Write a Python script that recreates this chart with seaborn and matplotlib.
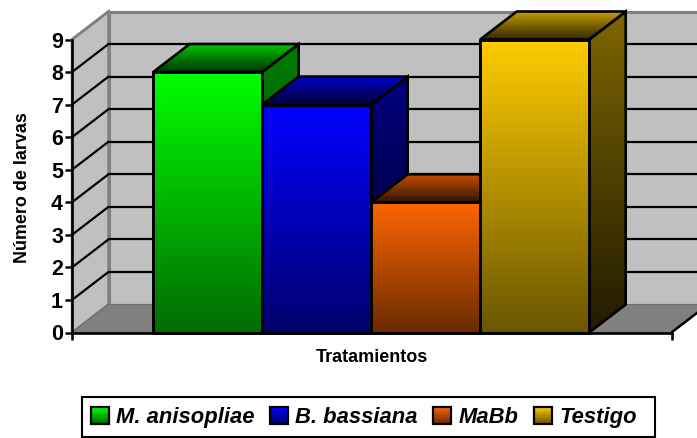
import numpy as np
import pandas as pd
import matplotlib
matplotlib.use('Agg')
import matplotlib.pyplot as plt
from matplotlib.colors import to_rgb
from matplotlib.legend_handler import HandlerBase
from matplotlib.patches import Patch, Polygon, Rectangle
import seaborn as sns

tratamientos = ['M. anisopliae', 'B. bassiana', 'MaBb', 'Testigo']
larvas = [8, 7, 4, 9]
colores = ['#00FF00', '#0000FF', '#FF6600', '#FFCC00']
y_ticks = [0, 1, 2, 3, 4, 5, 6, 7, 8, 9]

sns.set_theme(style='white')
plt.rcParams['font.family'] = ['Liberation Sans', 'DejaVu Sans']

W, H = 697, 438
fig = plt.figure(figsize=(W / 100, H / 100), dpi=100)
# ejes en pixeles de la figura
ax = fig.add_axes([72 / W, 1 - 332.5 / H, 599.5 / W, 293 / H])

df = pd.DataFrame({'grupo': ['t'] * 4, 'tratamiento': tratamientos, 'larvas': larvas})
sns.barplot(data=df, x='grupo', y='larvas', hue='tratamiento', palette=colores,
            width=0.8, gap=0, edgecolor='black', linewidth=1.9, legend=False, ax=ax)

x0, x1 = -0.549, 0.551
ax.set_xlim(x0, x1)
ax.set_ylim(0, 9)
dx = 36.5 * (x1 - x0) / 599.5   # profundidad
dy = 28 * 9 / 293


def gradiente(pts, color, arriba, abajo, ymin, ymax, z):
    # relleno vertical recortado al poligono
    col = np.array(to_rgb(color))
    f = np.linspace(arriba, abajo, 256)[:, None, None]
    img = f * col[None, None, :]
    xs = [p[0] for p in pts]
    im = ax.imshow(img, extent=(min(xs), max(xs), ymin, ymax), aspect='auto',
                   origin='upper', zorder=z, interpolation='bilinear')
    clip = Polygon(pts, closed=True, transform=ax.transData)
    im.set_clip_path(clip)
    im.set_clip_box(fig.bbox)
    ax.add_patch(Polygon(pts, closed=True, fill=False, edgecolor='black', linewidth=1.9,
                         joinstyle='miter', zorder=z + 0.1, clip_on=False))


# paredes y piso
ax.add_patch(Polygon([(x0, 0), (x0 + dx, dy), (x0 + dx, 9 + dy), (x0, 9)], closed=True,
                     facecolor='#C0C0C0', edgecolor='#808080', linewidth=1.8, zorder=1, clip_on=False))
ax.add_patch(Rectangle((x0 + dx, dy), x1 - x0, 9, facecolor='#C0C0C0', edgecolor='#808080',
                       linewidth=2.2, zorder=1, clip_on=False))
ax.add_patch(Polygon([(x0, 0), (x0 + dx, dy), (x1 + dx, dy), (x1, 0)], closed=True,
                     facecolor='#808080', edgecolor='#6E6E6E', linewidth=0.8, zorder=1.2, clip_on=False))
ax.plot([x1, x1 + dx], [0, dy], color='black', lw=1.8, zorder=1.3, clip_on=False)

for v in y_ticks[1:-1]:
    ax.plot([x0, x0 + dx], [v, v + dy], color='black', lw=1.6, zorder=1.5, clip_on=False)
    ax.plot([x0 + dx, x1 + dx], [v + dy, v + dy], color='black', lw=1.6, zorder=1.5, clip_on=False)
ax.plot([x0, x0 + dx], [9, 9 + dy], color='#808080', lw=2, zorder=1.5, clip_on=False)

# caras de cada barra, de izquierda a derecha
barras = [c[0] for c in ax.containers]
for i, (bar, color) in enumerate(zip(barras, colores)):
    xa = bar.get_x()
    xb = xa + bar.get_width()
    h = bar.get_height()
    z = 3 + i
    gradiente([(xb, 0), (xb + dx, dy), (xb + dx, h + dy), (xb, h)], color, 0.5, 0.13, 0, h + dy, z)
    gradiente([(xa, h), (xa + dx, h + dy), (xb + dx, h + dy), (xb, h)], color, 0.78, 0.2, h, h + dy, z + 0.2)
    gradiente([(xa, 0), (xa, h), (xb, h), (xb, 0)], color, 1.0, 0.42, 0, h, z + 0.4)
    bar.set_facecolor('none')
    bar.set_zorder(z + 0.5)

ax.set_xlim(x0, x1)
ax.set_ylim(0, 9)

ax.set_xticks([x0, x1])
ax.set_xticklabels(['', ''])
ax.set_yticks(y_ticks)
ax.set_yticklabels([str(v) for v in y_ticks], fontsize=15.5, fontweight='bold', color='black')
ax.tick_params(axis='both', length=5, width=1.8, color='black', direction='out', left=True, bottom=True, pad=1.5)
for lado in ['top', 'right']:
    ax.spines[lado].set_visible(False)
for lado in ['left', 'bottom']:
    ax.spines[lado].set_visible(True)
    ax.spines[lado].set_color('black')
    ax.spines[lado].set_linewidth(1.9)
    ax.spines[lado].set_zorder(20)
ax.patch.set_visible(False)

ax.set_xlabel('Tratamientos', fontsize=13, fontweight='bold', color='black')
ax.xaxis.set_label_coords((371.5 - 72) / 599.5, -24.5 / 293)
ax.xaxis.label.set_va('center')
ax.set_ylabel('Número de larvas', fontsize=12.9, fontweight='bold', color='black')
ax.yaxis.set_label_coords((23 - 72) / 599.5, (332.5 - 187.5) / 293)
ax.yaxis.label.set_va('center')


class HandlerGradiente(HandlerBase):
    def create_artists(self, legend, orig, xd, yd, width, height, fontsize, trans):
        col = np.array(to_rgb(orig.get_facecolor()))
        n = 16
        out = []
        for k in range(n):
            f = 1.0 - 0.6 * k / (n - 1)
            out.append(Rectangle((-xd, -yd + height * (1 - (k + 1) / n)), width, height / n,
                                 facecolor=col * f, edgecolor='none', transform=trans))
        out.append(Rectangle((-xd, -yd), width, height, fill=False, edgecolor='black', linewidth=1.6, transform=trans))
        return out


# marco de la leyenda, mas ancho a la derecha como en el original
fig.add_artist(Rectangle((82 / W, 1 - 437 / H), 573 / W, 40 / H, transform=fig.transFigure,
                         facecolor='white', edgecolor='black', linewidth=1.5))
handles = [Patch(facecolor=c, label=t) for c, t in zip(colores, tratamientos)]
leg = fig.legend(handles=handles, loc='center left', bbox_to_anchor=(91 / W, 1 - 417.5 / H), ncols=4,
                 prop={'size': 15.8, 'weight': 'bold', 'style': 'italic'},
                 handler_map={Patch: HandlerGradiente()}, handlelength=0.82, handleheight=0.82,
                 handletextpad=0.33, columnspacing=0.7, borderpad=0, borderaxespad=0,
                 frameon=False)
for t in leg.get_texts():
    t.set_color('black')

fig.savefig('out.png', dpi=100)
